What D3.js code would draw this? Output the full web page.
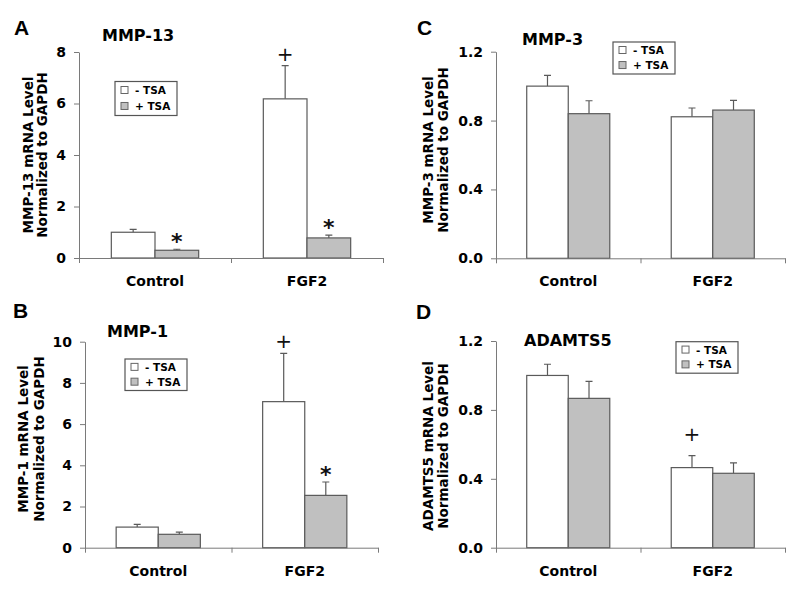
<!DOCTYPE html>
<html>
<head>
<meta charset="utf-8">
<script src="https://cdn.jsdelivr.net/npm/d3@7"></script>
<style>
  html, body { margin: 0; padding: 0; background: #fff; }
  svg { display: block; }
</style>
</head>
<body>
<svg id="chart" width="800" height="592"></svg>
<script>
// ---------------- DATA ----------------
const categories = ["Control", "FGF2"];
const seriesKeys = ["minus", "plus"];
const legendLabels = ["- TSA", "+ TSA"];

// Panel A: MMP-13
const mmp13Minus = [1.0, 6.18];
const mmp13MinusErr = [0.11, 1.29];
const mmp13Plus = [0.30, 0.78];
const mmp13PlusErr = [0.04, 0.11];
const mmp13MinusMarks = ["", "+"];
const mmp13PlusMarks = ["*", "*"];
const mmp13Ticks = [0, 2, 4, 6, 8];

// Panel B: MMP-1
const mmp1Minus = [1.0, 7.09];
const mmp1MinusErr = [0.13, 2.34];
const mmp1Plus = [0.65, 2.54];
const mmp1PlusErr = [0.11, 0.65];
const mmp1MinusMarks = ["", "+"];
const mmp1PlusMarks = ["", "*"];
const mmp1Ticks = [0, 2, 4, 6, 8, 10];

// Panel C: MMP-3
const mmp3Minus = [1.0, 0.822];
const mmp3MinusErr = [0.063, 0.051];
const mmp3Plus = [0.84, 0.861];
const mmp3PlusErr = [0.075, 0.056];
const mmp3MinusMarks = ["", ""];
const mmp3PlusMarks = ["", ""];
const mmp3Ticks = [0, 0.4, 0.8, 1.2];

// Panel D: ADAMTS5
const adamts5Minus = [1.0, 0.465];
const adamts5MinusErr = [0.065, 0.069];
const adamts5Plus = [0.867, 0.432];
const adamts5PlusErr = [0.099, 0.060];
const adamts5MinusMarks = ["", "+"];
const adamts5PlusMarks = ["", ""];
const adamts5Ticks = [0, 0.4, 0.8, 1.2];

// ---------------- LAYOUT ----------------
const panels = [
  { letter: "A", lx: 14, ly: 35, title: "MMP-13", tx: 102, ty: 41,
    yl1: "MMP-13 mRNA Level", yl2: "Normalized to GAPDH", yb1: 33, yb2: 47, yc: 155,
    x0: 79, x1: 383, yTop: 52, yBot: 258, max: 8, ticks: mmp13Ticks, fmt: d3.format("d"),
    minus: mmp13Minus, minusErr: mmp13MinusErr, plus: mmp13Plus, plusErr: mmp13PlusErr,
    minusMarks: mmp13MinusMarks, plusMarks: mmp13PlusMarks, plusGap: 12,
    legX: 115, legY: 81.5, legH: 34 },
  { letter: "B", lx: 13, ly: 318, title: "MMP-1", tx: 107, ty: 337,
    yl1: "MMP-1 mRNA Level", yl2: "Normalized to GAPDH", yb1: 28, yb2: 44, yc: 439,
    x0: 85, x1: 378, yTop: 341.7, yBot: 547.7, max: 10, ticks: mmp1Ticks, fmt: d3.format("d"),
    minus: mmp1Minus, minusErr: mmp1MinusErr, plus: mmp1Plus, plusErr: mmp1PlusErr,
    minusMarks: mmp1MinusMarks, plusMarks: mmp1PlusMarks, plusGap: 13,
    legX: 125, legY: 359, legH: 31.5 },
  { letter: "C", lx: 417, ly: 35, title: "MMP-3", tx: 522, ty: 44.5,
    yl1: "MMP-3 mRNA Level", yl2: "Normalized to GAPDH", yb1: 433, yb2: 448, yc: 150,
    x0: 496, x1: 785, yTop: 51.7, yBot: 258.3, max: 1.2, ticks: mmp3Ticks, fmt: d3.format(".1f"),
    minus: mmp3Minus, minusErr: mmp3MinusErr, plus: mmp3Plus, plusErr: mmp3PlusErr,
    minusMarks: mmp3MinusMarks, plusMarks: mmp3PlusMarks, plusGap: 12,
    legX: 613, legY: 42, legH: 32 },
  { letter: "D", lx: 416, ly: 319, title: "ADAMTS5", tx: 524, ty: 346,
    yl1: "ADAMTS5 mRNA Level", yl2: "Normalized to GAPDH", yb1: 433, yb2: 448, yc: 446,
    x0: 496, x1: 785, yTop: 341, yBot: 547.7, max: 1.2, ticks: adamts5Ticks, fmt: d3.format(".1f"),
    minus: adamts5Minus, minusErr: adamts5MinusErr, plus: adamts5Plus, plusErr: adamts5PlusErr,
    minusMarks: adamts5MinusMarks, plusMarks: adamts5PlusMarks, plusGap: 22,
    legX: 676, legY: 341.7, legH: 31.5 }
];

const FONT = "'DejaVu Sans', Verdana, sans-serif";
const fills = { minus: "#ffffff", plus: "#c0c0c0" };
const barStroke = "#5a5a5a";
const axisColor = "#7a7a7a";

const svg = d3.select("#chart");

panels.forEach(p => {
  const g = svg.append("g");
  const y = d3.scaleLinear().domain([0, p.max]).range([p.yBot, p.yTop]);
  const x = d3.scaleBand().domain(categories).range([p.x0, p.x1]).padding(0);
  const xs = d3.scaleBand().domain(seriesKeys).range([0, x.bandwidth()])
    .paddingInner(0).paddingOuter(0.74);

  // panel letter
  g.append("text").attr("x", p.lx).attr("y", p.ly)
    .attr("font-family", "'Liberation Sans', Arial, sans-serif")
    .attr("font-weight", "bold").attr("font-size", 21).text(p.letter);

  // title
  g.append("text").attr("x", p.tx).attr("y", p.ty)
    .attr("font-family", FONT).attr("font-weight", "bold").attr("font-size", 16)
    .text(p.title);

  // y label
  [[p.yl1, p.yb1], [p.yl2, p.yb2]].forEach(([t, bx]) => {
    g.append("text")
      .attr("transform", `translate(${bx},${p.yc}) rotate(-90)`)
      .attr("text-anchor", "middle")
      .attr("font-family", FONT).attr("font-weight", "bold").attr("font-size", 13.5)
      .text(t);
  });

  // y axis
  const ya = g.append("g").attr("transform", `translate(${p.x0},0)`)
    .call(d3.axisLeft(y).tickValues(p.ticks).tickFormat(p.fmt).tickSize(5).tickSizeOuter(0).tickPadding(8));
  ya.select(".domain").attr("stroke", axisColor);
  ya.selectAll(".tick line").attr("stroke", axisColor);
  ya.selectAll(".tick text").attr("font-family", FONT).attr("font-weight", "bold")
    .attr("font-size", 14).attr("fill", "#000");

  // bars
  const rows = categories.map((c, i) => ({
    cat: c,
    items: seriesKeys.map(k => ({
      key: k, value: p[k][i], err: p[k + "Err"][i], mark: p[k + "Marks"][i]
    }))
  }));
  const grp = g.selectAll(".grp").data(rows).join("g")
    .attr("transform", d => `translate(${x(d.cat)},0)`);

  // error bars (upward only), drawn first
  grp.selectAll(".err").data(d => d.items).join("path")
    .attr("d", d => {
      const cx = xs(d.key) + xs.bandwidth() / 2;
      const yt = y(d.value + d.err);
      return `M${cx},${y(d.value)}V${yt}M${cx - 3.5},${yt}H${cx + 3.5}`;
    })
    .attr("stroke", barStroke).attr("stroke-width", 1.2).attr("fill", "none");

  grp.selectAll(".bar").data(d => d.items).join("rect")
    .attr("x", d => xs(d.key))
    .attr("y", d => y(d.value))
    .attr("width", xs.bandwidth())
    .attr("height", d => y(0) - y(d.value))
    .attr("fill", d => fills[d.key])
    .attr("stroke", barStroke).attr("stroke-width", 1.2);

  // significance marks
  grp.selectAll(".mark").data(d => d.items.filter(it => it.mark)).join("text")
    .attr("x", d => xs(d.key) + xs.bandwidth() / 2)
    .attr("y", d => {
      const top = y(d.value + d.err);
      if (d.mark === "+") return top - p.plusGap + 7.4;
      return top - 13 + 12.8;
    })
    .attr("text-anchor", "middle")
    .attr("font-family", FONT)
    .attr("font-weight", d => d.mark === "*" ? "bold" : "normal")
    .attr("font-size", d => d.mark === "*" ? 22 : 20)
    .attr("fill", "#111")
    .text(d => d.mark);

  // x axis line + boundary ticks
  const xb = d3.scaleLinear().domain([0, categories.length]).range([p.x0, p.x1]);
  const xa = g.append("g").attr("transform", `translate(0,${p.yBot})`)
    .call(d3.axisBottom(xb).tickValues(d3.range(categories.length + 1)).tickFormat("").tickSize(5).tickSizeOuter(0));
  xa.select(".domain").attr("stroke", axisColor);
  xa.selectAll(".tick line").attr("stroke", axisColor);

  // category labels
  const xl = g.append("g").attr("transform", `translate(0,${p.yBot})`)
    .call(d3.axisBottom(x).tickSize(0).tickPadding(18));
  xl.select(".domain").remove();
  xl.selectAll(".tick text").attr("font-family", FONT).attr("font-weight", "bold")
    .attr("font-size", 14).attr("fill", "#000");

  // legend
  const lg = g.append("g").attr("transform", `translate(${p.legX},${p.legY})`);
  lg.append("rect").attr("width", 62).attr("height", p.legH)
    .attr("fill", "#fff").attr("stroke", "#555").attr("stroke-width", 1.2);
  const rowOff = [p.legH * 0.25, p.legH * 0.72];
  seriesKeys.forEach((k, i) => {
    lg.append("rect").attr("x", 6).attr("y", rowOff[i] - 3.5).attr("width", 7).attr("height", 7)
      .attr("fill", fills[k]).attr("stroke", "#666").attr("stroke-width", 1);
    lg.append("text").attr("x", 20).attr("y", rowOff[i] + 4)
      .attr("font-family", FONT).attr("font-weight", "bold").attr("font-size", 10.5)
      .text(legendLabels[i]);
  });
});
</script>
</body>
</html>
